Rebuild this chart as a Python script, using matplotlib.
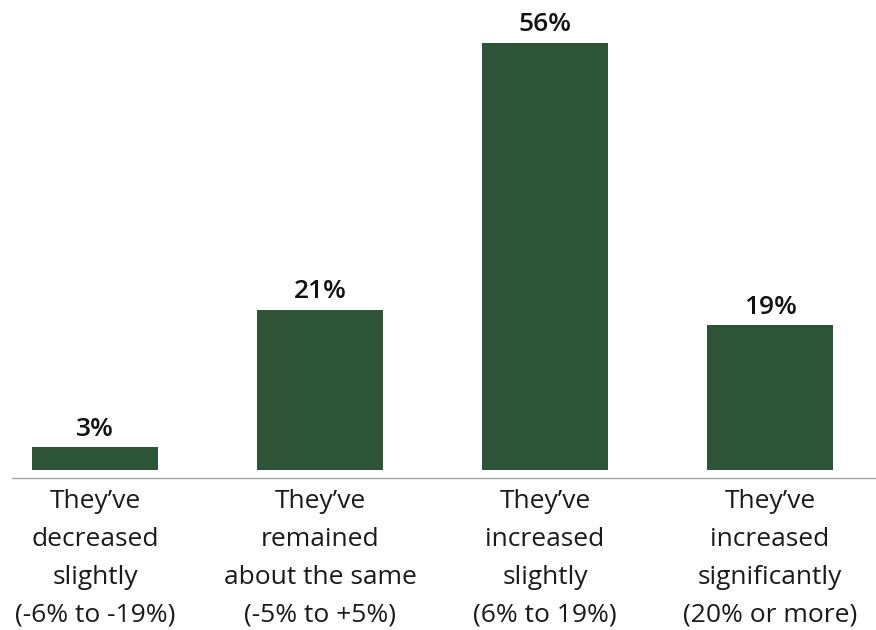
import matplotlib
matplotlib.use("Agg")
import matplotlib.pyplot as plt

categories = ["They\u2019ve\ndecreased\nslightly\n(-6% to -19%)",
              "They\u2019ve\nremained\nabout the same\n(-5% to +5%)",
              "They\u2019ve\nincreased\nslightly\n(6% to 19%)",
              "They\u2019ve\nincreased\nsignificantly\n(20% or more)"]
values = [3, 21, 56, 19]
value_labels = ["3%", "21%", "56%", "19%"]

plt.rcParams['font.family'] = ['Open Sans', 'DejaVu Sans']

W, H = 876, 630
fig = plt.figure(figsize=(W/100, H/100), dpi=100)
left_px, bottom_px, top_px = 12, 470, 12.5
ax = fig.add_axes([left_px/W, (H-bottom_px)/H, (W-left_px)/W, (bottom_px-top_px)/H])

x = list(range(len(values)))
ax.bar(x, values, width=0.556, color="#2d5436")
ax.set_xlim(-(95-12)/225, (876-95)/225)
ax.set_ylim(0, 60)

for xi, v, lab in zip(x, values, value_labels):
    ax.annotate(lab, (xi, v), xytext=(0, 4), textcoords="offset points",
                ha="center", va="bottom", fontsize=19, fontweight="semibold", color="#111111")

for s in ["top", "right", "left"]:
    ax.spines[s].set_visible(False)
ax.spines["bottom"].set_position(("outward", 5.8))
ax.spines["bottom"].set_color("#a6a6a6")
ax.spines["bottom"].set_linewidth(1.0)
ax.set_yticks([])
ax.set_xticks(x)
ax.set_xticklabels(categories, fontsize=19, color="#1a1a1a", linespacing=1.67)
ax.tick_params(axis="x", length=0, pad=8)

fig.savefig("out.png", dpi=100)
